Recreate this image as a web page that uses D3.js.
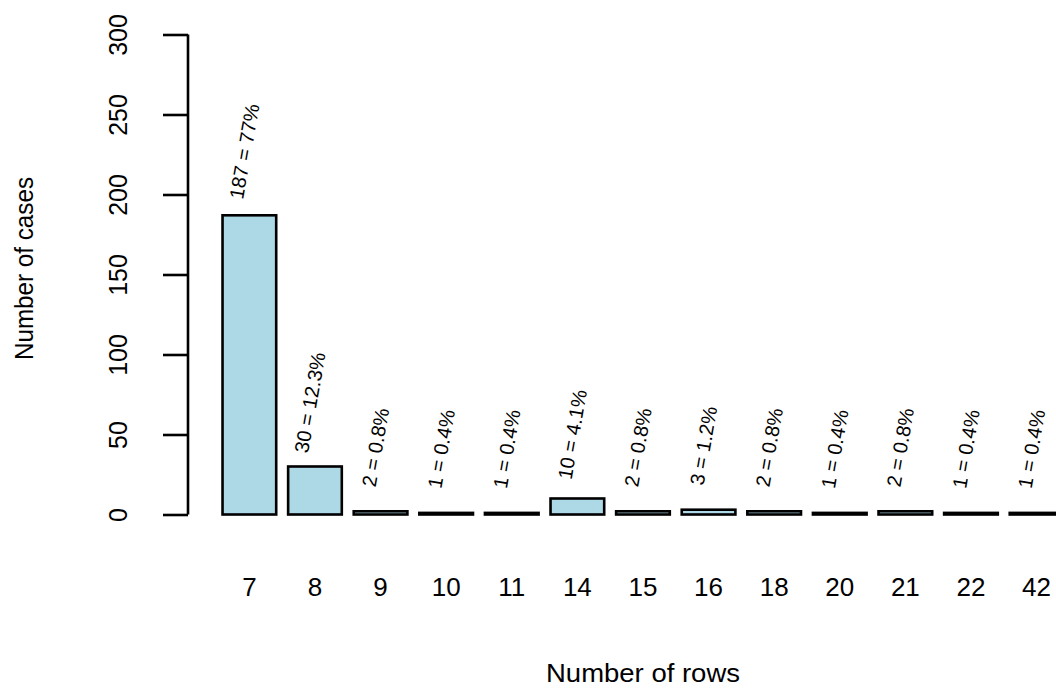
<!DOCTYPE html>
<html>
<head>
<meta charset="utf-8">
<script src="https://cdn.jsdelivr.net/npm/d3@7"></script>
<style>
  html, body { margin: 0; padding: 0; background: #fff; }
  svg { display: block; font-family: "Liberation Sans", Arial, Helvetica, sans-serif; }
</style>
</head>
<body>
<svg id="chart" width="1056" height="688"></svg>
<script>
const categories = ["7", "8", "9", "10", "11", "14", "15", "16", "18", "20", "21", "22", "42"];
const counts = [187, 30, 2, 1, 1, 10, 2, 3, 2, 1, 2, 1, 1];
const percentLabels = ["77%", "12.3%", "0.8%", "0.4%", "0.4%", "4.1%", "0.8%", "1.2%", "0.8%", "0.4%", "0.8%", "0.4%", "0.4%"];
const yTicks = [0, 50, 100, 150, 200, 250, 300];
const xTitle = "Number of rows";
const yTitle = "Number of cases";

const svg = d3.select("#chart");

const x = d3.scaleBand()
  .domain(categories)
  .range([211.1, 211.1 + 65.6 * (13 + 1 / 6)])
  .paddingInner(1 / 6)
  .paddingOuter(1 / 6);

const y = d3.scaleLinear().domain([0, 300]).range([514.5, 34.5]);

// Bars
svg.append("g")
  .selectAll("rect")
  .data(counts)
  .join("rect")
  .attr("x", (d, i) => x(categories[i]) + 0.5)
  .attr("width", x.bandwidth() - 1)
  .attr("y", d => y(d))
  .attr("height", d => y(0) - y(d))
  .attr("fill", "#ADD8E6")
  .attr("stroke", "#000")
  .attr("stroke-width", 2.6);

// Bar labels (rotated)
svg.append("g")
  .selectAll("text")
  .data(counts)
  .join("text")
  .attr("transform", (d, i) => `translate(${x(categories[i]) + x.bandwidth() / 2 - 5},${y(d) - 64}) rotate(-80)`)
  .attr("text-anchor", "middle")
  .attr("dominant-baseline", "central")
  .attr("font-size", 20)
  .attr("fill", "#000")
  .text((d, i) => `${d} = ${percentLabels[i]}`);

// Y axis
const yAxis = d3.axisLeft(y).tickValues(yTicks).tickSize(25).tickPadding(0).tickFormat(d3.format("d"));
const yg = svg.append("g").attr("transform", "translate(188,0)").call(yAxis);
yg.select(".domain").attr("d", `M0,${y(0)}V${y(300)}`).attr("stroke", "#000").attr("stroke-width", 2.6);
yg.selectAll(".tick line").attr("stroke", "#000").attr("stroke-width", 2.6);
yg.selectAll(".tick text")
  .attr("font-size", 25)
  .attr("font-family", "'Liberation Sans', Arial, sans-serif")
  .attr("fill", "#000")
  .attr("text-anchor", "middle")
  .attr("dominant-baseline", "auto")
  .attr("dy", null)
  .attr("x", null)
  .attr("transform", d => `translate(-61,0) rotate(-90)`);

// X labels (no axis line, as in the reference)
const xAxis = d3.axisBottom(x).tickSize(0).tickPadding(0);
const xg = svg.append("g").attr("transform", "translate(0,596)").call(xAxis);
xg.select(".domain").remove();
xg.selectAll(".tick text")
  .attr("font-size", 26)
  .attr("font-family", "'Liberation Sans', Arial, sans-serif")
  .attr("fill", "#000")
  .attr("dy", null)
  .attr("y", 0);

// Titles
svg.append("text")
  .attr("x", 643)
  .attr("y", 682)
  .attr("text-anchor", "middle")
  .attr("font-size", 25)
  .attr("textLength", 194)
  .attr("lengthAdjust", "spacingAndGlyphs")
  .attr("fill", "#000")
  .text(xTitle);

svg.append("text")
  .attr("transform", `translate(33,268.5) rotate(-90)`)
  .attr("text-anchor", "middle")
  .attr("font-size", 25)
  .attr("textLength", 183)
  .attr("lengthAdjust", "spacingAndGlyphs")
  .attr("fill", "#000")
  .text(yTitle);
</script>
</body>
</html>
